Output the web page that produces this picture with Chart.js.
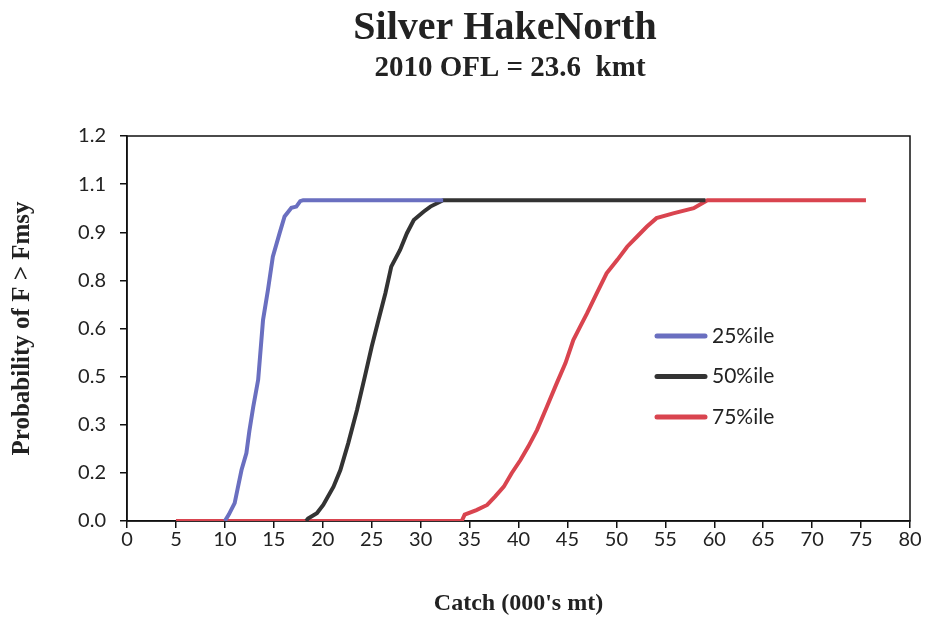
<!DOCTYPE html>
<html>
<head>
<meta charset="utf-8">
<script src="https://cdn.jsdelivr.net/npm/chart.js@4.4.1/dist/chart.umd.min.js"></script>
<style>
  html, body { margin: 0; padding: 0; background: #fff; }
  #wrap { width: 932px; height: 626px; position: relative; }
</style>
</head>
<body>
<div id="wrap"><canvas id="chart" width="932" height="626"></canvas></div>
<script>
const chartTitle = 'Silver HakeNorth';
const chartSubtitle = '2010 OFL = 23.6  kmt';
const seriesLabels = ['25%ile', '50%ile', '75%ile'];
const seriesColors = ['#6a6fc0', '#333333', '#d9444f'];

// x-axis ticks 0..80 by 5
const xTickValues = [0, 5, 10, 15, 20, 25, 30, 35, 40, 45, 50, 55, 60, 65, 70, 75, 80];
// y-axis: excel style steps of 0.15 shown with one decimal
const yTickValues = [0, 0.15, 0.3, 0.45, 0.6, 0.75, 0.9, 1.05, 1.2];
const yTickLabels = ['0.0', '0.2', '0.3', '0.5', '0.6', '0.8', '0.9', '1.1', '1.2'];

// 25%ile
const catch25 = [10.0, 10.4, 11.0, 11.3, 11.7, 12.2, 12.5, 12.9, 13.4, 13.9, 14.4, 14.9, 15.6, 16.1, 16.8, 17.3, 17.7, 18.0, 32.3];
const prob25 = [0, 0.02, 0.056, 0.1, 0.159, 0.212, 0.28, 0.356, 0.44, 0.627, 0.72, 0.824, 0.898, 0.949, 0.976, 0.98, 0.997, 1.0, 1.0];

// 50%ile
const catch50 = [18.3, 18.5, 19.4, 20.05, 21.1, 21.8, 22.6, 23.5, 24.3, 25.0, 25.7, 26.4, 27.0, 27.9, 28.6, 29.3, 30.3, 31.0, 32.3, 59.1];
const prob50 = [0, 0.008, 0.024, 0.05, 0.107, 0.159, 0.242, 0.346, 0.45, 0.543, 0.627, 0.71, 0.793, 0.845, 0.897, 0.938, 0.964, 0.98, 1.0, 1.0];

// 75%ile
const catch75 = [5, 34.2, 34.5, 35.7, 36.8, 37.6, 38.5, 39.3, 40.2, 41.0, 41.9, 42.9, 43.9, 44.8, 45.6, 46.3, 47.0, 48.0, 49.0, 50.1, 51.1, 52.1, 53.1, 54.1, 55.8, 57.9, 59.3, 75.5];
const prob75 = [0, 0, 0.02, 0.034, 0.05, 0.076, 0.107, 0.149, 0.19, 0.232, 0.284, 0.356, 0.429, 0.492, 0.564, 0.606, 0.647, 0.71, 0.772, 0.814, 0.855, 0.886, 0.917, 0.944, 0.959, 0.975, 1.0, 1.0];

const toPoints = (xs, ys) => xs.map((x, i) => ({ x: x, y: ys[i] }));
const allSeries = [toPoints(catch25, prob25), toPoints(catch50, prob50), toPoints(catch75, prob75)];

const serifFont = '"Liberation Serif", "DejaVu Serif", serif';
const sansFont = 'Lato, "Open Sans", sans-serif';

// box round the plot, titles and the in-plot legend
const decorPlugin = {
  id: 'decor',
  beforeDatasetsDraw(chart) {
    const { ctx, chartArea } = chart;
    ctx.save();
    ctx.strokeStyle = '#111';
    ctx.lineWidth = 1.5;
    ctx.strokeRect(chartArea.left, chartArea.top, chartArea.right - chartArea.left, chartArea.bottom - chartArea.top);
    ctx.restore();
  },
  afterDraw(chart) {
    const { ctx, chartArea } = chart;
    ctx.save();
    ctx.fillStyle = '#222';
    ctx.textAlign = 'center';
    ctx.textBaseline = 'alphabetic';
    ctx.font = 'bold 40px ' + serifFont;
    ctx.fillText(chartTitle, 505, 39);
    ctx.font = 'bold 29px ' + serifFont;
    ctx.fillText(chartSubtitle, 510, 76);

    const lx = chartArea.right - 253;
    ctx.textAlign = 'left';
    ctx.textBaseline = 'middle';
    ctx.font = '21px ' + sansFont;
    chart.data.datasets.forEach((ds, i) => {
      const ly = 336 + i * 40.5;
      ctx.strokeStyle = ds.borderColor;
      ctx.lineWidth = 5;
      ctx.lineCap = 'round';
      ctx.beginPath();
      ctx.moveTo(lx, ly);
      ctx.lineTo(lx + 48, ly);
      ctx.stroke();
      ctx.fillStyle = '#222';
      ctx.fillText(ds.label, lx + 55, ly);
    });
    ctx.restore();
  }
};

new Chart(document.getElementById('chart'), {
  type: 'line',
  data: {
    datasets: allSeries.map((pts, i) => ({
      label: seriesLabels[i],
      data: pts,
      borderColor: seriesColors[i],
      borderWidth: 4,
      pointRadius: 0,
      tension: 0,
      fill: false
    }))
  },
  options: {
    responsive: false,
    animation: false,
    layout: { padding: { top: 136, left: 6, right: 22, bottom: 8 } },
    plugins: {
      legend: { display: false },
      tooltip: { enabled: false }
    },
    scales: {
      x: {
        type: 'linear',
        min: 0,
        max: 80,
        afterBuildTicks: (scale) => { scale.ticks = xTickValues.map(v => ({ value: v })); },
        afterFit: (scale) => { scale.height = 97; },
        grid: { drawOnChartArea: false, drawTicks: true, tickLength: 7, color: '#111', lineWidth: 1.5 },
        border: { display: true, color: '#111', width: 1.5 },
        ticks: { color: '#222', font: { family: sansFont, size: 20 }, padding: 0, maxRotation: 0 },
        title: {
          display: true,
          text: "Catch (000's mt)",
          color: '#222',
          font: { family: serifFont, size: 24, weight: 'bold' },
          padding: { top: 0, bottom: 0 }
        }
      },
      y: {
        type: 'linear',
        min: 0,
        max: 1.2,
        afterBuildTicks: (scale) => { scale.ticks = yTickValues.map(v => ({ value: v })); },
        afterFit: (scale) => { scale.width = 121; },
        grid: { drawOnChartArea: false, drawTicks: true, tickLength: 7, color: '#111', lineWidth: 1.5 },
        border: { display: true, color: '#111', width: 1.5 },
        ticks: {
          color: '#222',
          font: { family: sansFont, size: 20 },
          padding: 14,
          callback: (v, i) => yTickLabels[i]
        },
        title: {
          display: true,
          text: 'Probability of F > Fmsy',
          color: '#222',
          font: { family: serifFont, size: 25, weight: 'bold' },
          padding: { top: 2, bottom: 0 }
        }
      }
    }
  },
  plugins: [decorPlugin]
});
</script>
</body>
</html>
